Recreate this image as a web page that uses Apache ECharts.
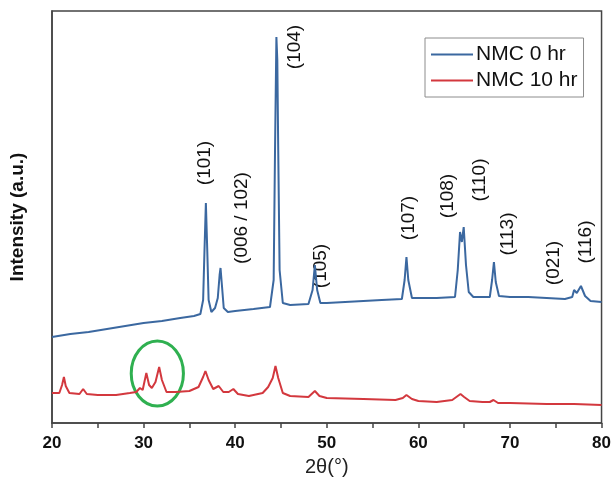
<!DOCTYPE html>
<html>
<head>
<meta charset="utf-8">
<script src="https://cdn.jsdelivr.net/npm/echarts@6/dist/echarts.min.js"></script>
<style>
html,body{margin:0;padding:0;background:#fff;}
#chart{width:614px;height:492px;}
</style>
</head>
<body>
<div id="chart"></div>
<script>
// 2θ (deg) and intensity (a.u.) for NMC 0 hr
const theta0 = [20,22,24,26,28,30,32,34,35.5,36.2,36.5,36.65,36.8,36.95,37.1,37.4,37.8,38.1,38.3,38.4,38.55,38.75,39.2,40,42,43.8,44.2,44.35,44.5,44.6,44.7,44.85,45.2,46,48,48.45,48.7,48.95,49.3,50,52,54,56,58.2,58.5,58.7,58.9,59.3,60,62,64,64.3,64.55,64.75,64.95,65.2,65.5,66,67.8,68.05,68.25,68.45,68.8,70,72,74,76,76.8,77.0,77.3,77.75,78.2,78.8,80];
const nmc0 = [86,89,91,94,97,100,102,105,107,109,123,173,220,173,123,111,115,125,148,155,138,115,111,112,114,116,143,273,386,363,273,153,120,118,119,133,158,133,120,120,121,122,123,124,143,166,143,125,125,125,126,153,191,181,196,158,131,126,126,143,161,141,127,126,126,125,124,126,133,130,137,127,122,121];

// 2θ (deg) and intensity (a.u.) for NMC 10 hr
const theta10 = [20,20.8,21.1,21.3,21.5,21.9,23.0,23.4,23.8,25,27,28.5,29.2,29.6,29.9,30.3,30.6,30.9,31.3,31.7,32.0,32.5,33.5,35,36,36.5,36.75,37.1,37.6,38.2,38.7,39.3,39.8,40.3,41.5,43,43.6,44.1,44.4,44.7,45.2,46,48,48.7,49.2,50,54,57.5,58.3,58.7,59.3,60,62,63.7,64.3,64.6,65.0,65.6,67,67.8,68.2,68.7,70,74,77,80];
const nmc10 = [30,30,38,46,37,30,29,34,29,28,28,30,31,35,33,50,38,35,41,56,43,31,31,32,36,46,52,43,34,37,31,31,34,29,27,30,36,45,57,45,30,27,26,32,27,25,24,23,25,28,24,22,21,23,27,29,26,22,21,21,23,20,20,19,19,18];

// Miller-index annotations (centre position in data units)
const hklText = ['(101)','(006 / 102)','(104)','(105)','(107)','(108)','(110)','(113)','(021)','(116)'];
const hklX = [36.63,40.76,46.52,49.35,58.91,63.26,66.74,69.78,74.78,78.26];
const hklY = [260,205,376,157,205,227,243,189,160,181];

// highlighted region (ellipse) in data units
const ellipseCenter = [31.5, 49.5];
const ellipseHalf = [2.85, 32.5];

const xTicks = [20,30,40,50,60,70,80];
const seriesNames = ['NMC 0 hr','NMC 10 hr'];

const FONT = '"Liberation Sans", Arial, Helvetica, sans-serif';
const chart = echarts.init(document.getElementById('chart'), null, {renderer:'canvas'});

const zip = (a,b) => a.map((v,i)=>[v,b[i]]);

chart.setOption({
  animation:false,
  backgroundColor:'#fff',
  grid:{left:52,right:10,top:11,bottom:69,show:true,borderColor:'#444',borderWidth:1.5,backgroundColor:'transparent'},
  legend:{
    orient:'vertical', left:425, top:38,
    padding:[6,6,6,6], itemGap:5,
    borderColor:'#8c8c8c', borderWidth:1,
    icon:'rect', itemWidth:42, itemHeight:2,
    textStyle:{fontFamily:FONT,fontSize:21,color:'#111',padding:[0,0,0,-2]},
    data:seriesNames
  },
  xAxis:{
    type:'value', min:20, max:80, interval:5,
    name:'2θ(°)', nameLocation:'middle', nameGap:34,
    nameTextStyle:{fontFamily:FONT,fontSize:20,color:'#222'},
    axisLine:{show:true,lineStyle:{color:'#444',width:1.5}},
    axisTick:{show:true,inside:false,length:5,lineStyle:{color:'#444',width:1.5}},
    axisLabel:{
      margin:12, fontFamily:FONT, fontSize:17, fontWeight:'bold', color:'#111',
      formatter:v => xTicks.indexOf(v) >= 0 ? String(v) : ''
    },
    splitLine:{show:false}
  },
  yAxis:{
    type:'value', min:0, max:412,
    name:'Intensity (a.u.)', nameLocation:'middle', nameGap:25,
    nameTextStyle:{fontFamily:FONT,fontSize:19,fontWeight:'bold',color:'#111'},
    axisLine:{show:true,lineStyle:{color:'#444',width:1.5}},
    axisTick:{show:false}, axisLabel:{show:false}, splitLine:{show:false}
  },
  series:[
    {name:seriesNames[0],type:'line',data:zip(theta0,nmc0),symbol:'none',
     lineStyle:{color:'#3b68a0',width:2},itemStyle:{color:'#3b68a0'}},
    {name:seriesNames[1],type:'line',data:zip(theta10,nmc10),symbol:'none',
     lineStyle:{color:'#d3383e',width:2},itemStyle:{color:'#d3383e'}}
  ]
});

function drawAnnotations(){
  const g = [];
  hklText.forEach((t,i)=>{
    const p = chart.convertToPixel({gridIndex:0},[hklX[i],hklY[i]]);
    g.push({type:'text',x:p[0],y:p[1],rotation:Math.PI/2,
      style:{text:t,fontFamily:FONT,fontSize:19,fill:'#111',align:'center',verticalAlign:'middle'}});
  });
  const c = chart.convertToPixel({gridIndex:0},ellipseCenter);
  const e = chart.convertToPixel({gridIndex:0},[ellipseCenter[0]+ellipseHalf[0],ellipseCenter[1]+ellipseHalf[1]]);
  g.push({type:'ellipse',shape:{cx:c[0],cy:c[1],rx:Math.abs(e[0]-c[0]),ry:Math.abs(c[1]-e[1])},
    style:{fill:'none',stroke:'#2fb050',lineWidth:3}});
  chart.setOption({graphic:g});
}
drawAnnotations();
</script>
</body>
</html>
